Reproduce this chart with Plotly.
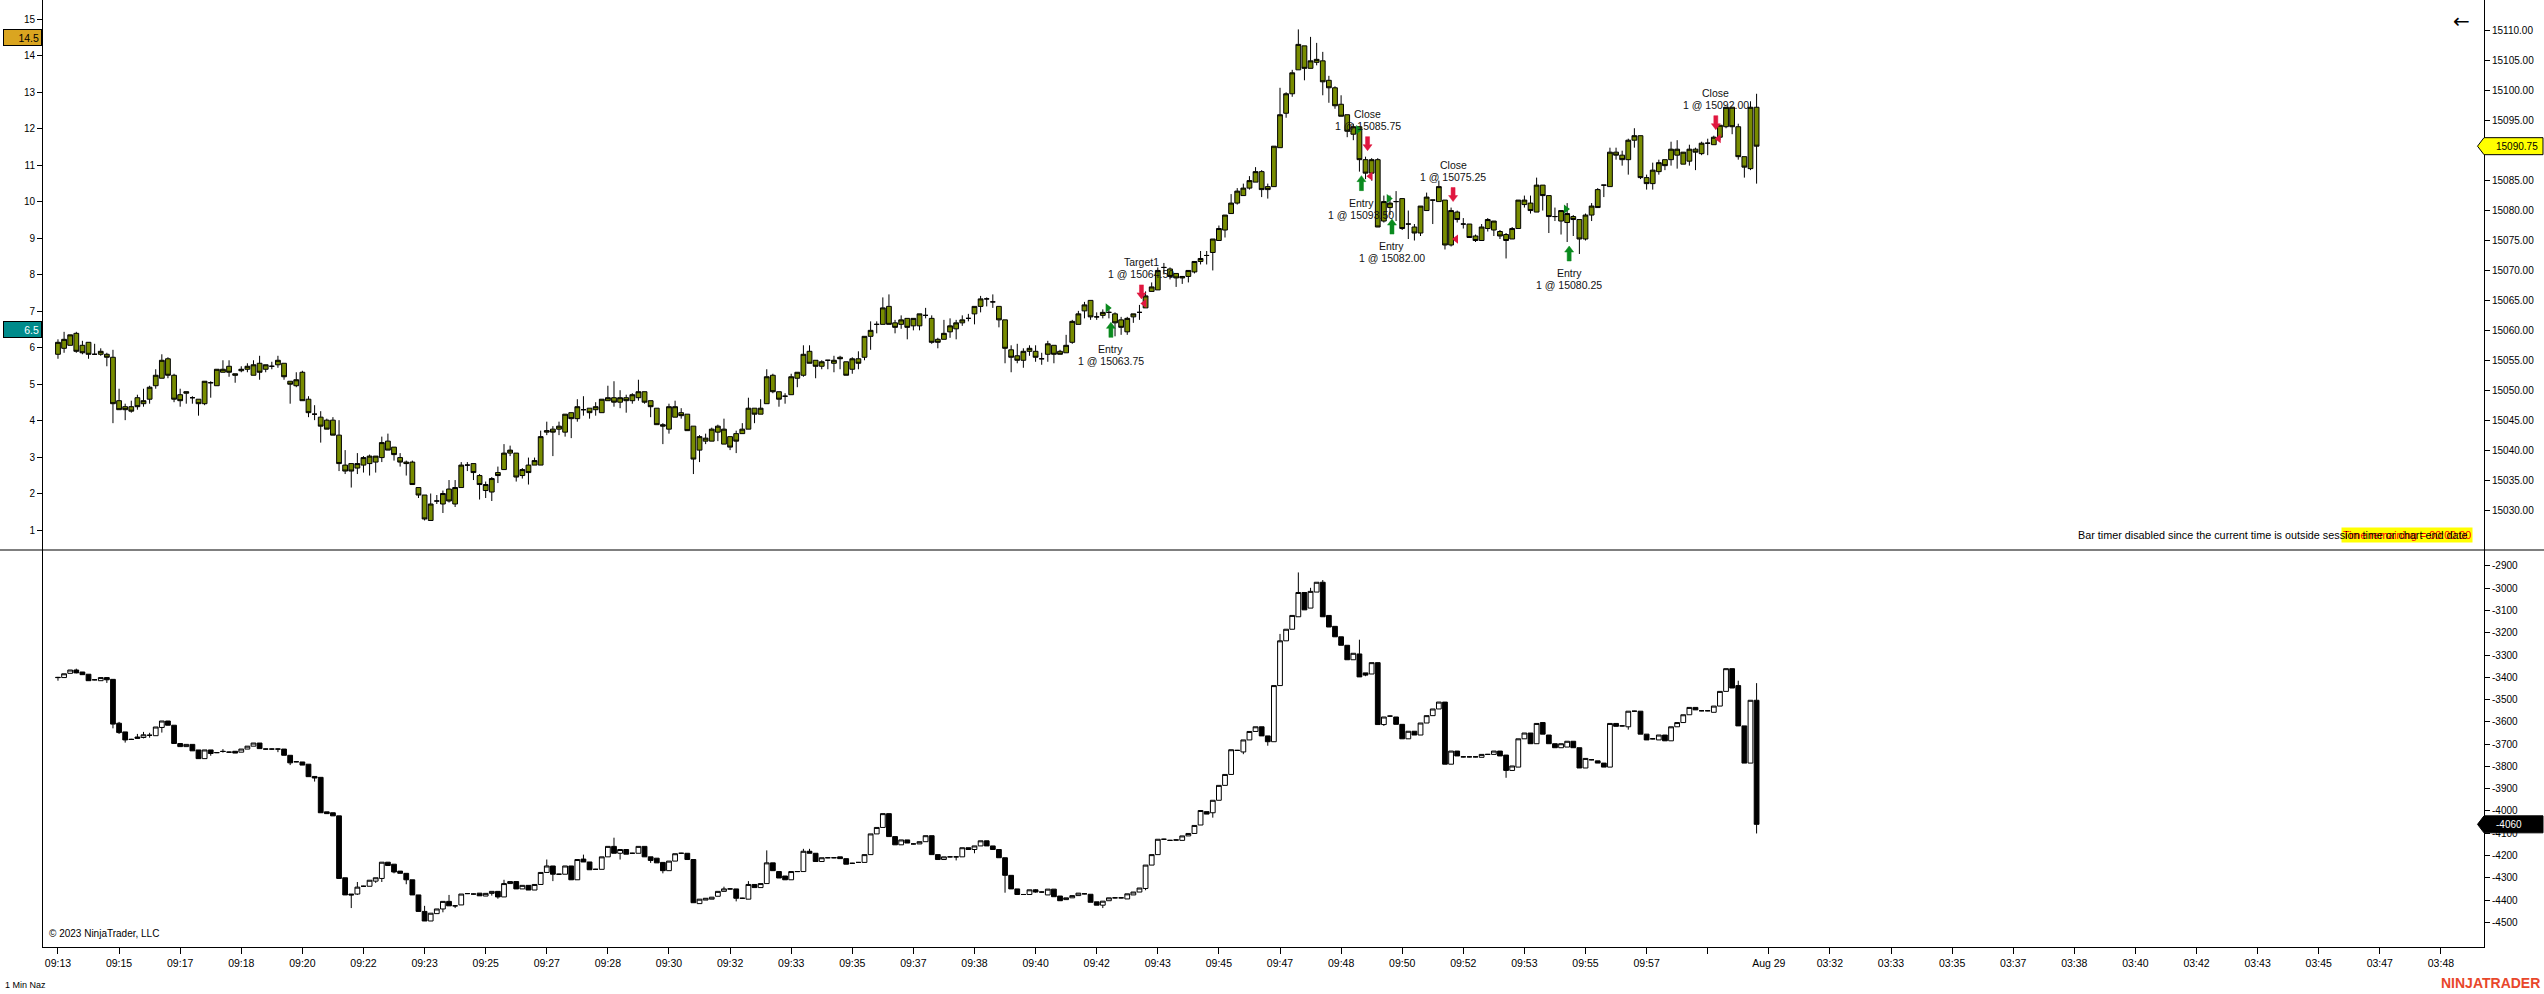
import plotly.graph_objects as go

W, H = 2544, 994
FONT = "Liberation Sans, Arial, sans-serif"
OLIVE = "#788c00"
GREEN = "#0a8a1e"
RED = "#e0173f"

# ---------------- price panel (1 Min Naz) ----------------
price_open = [
    15056.0, 15057.0, 15057.5, 15059.5, 15057.5, 15058.0, 15056.0, 15056.0, 15056.0, 15055.5,
    15048.25, 15047.25, 15047.25, 15048.75, 15047.75, 15048.5, 15050.75, 15052.0, 15055.25, 15052.5,
    15049.25, 15049.5, 15048.75, 15048.5, 15047.75, 15051.25, 15050.75, 15053.0, 15054.0, 15052.75,
    15053.25, 15053.5, 15052.5, 15054.5, 15053.5, 15054.0, 15054.25, 15054.5, 15051.5, 15050.75,
    15053.0, 15048.5, 15046.0, 15045.5, 15045.0, 15045.0, 15042.5, 15037.5, 15037.75, 15037.0,
    15037.5, 15037.75, 15038.0, 15038.75, 15041.5, 15040.5, 15038.75, 15038.0, 15038.0, 15033.75,
    15032.5, 15028.25, 15031.5, 15031.0, 15033.5, 15031.0, 15033.75, 15037.5, 15037.75, 15035.75,
    15033.25, 15033.0, 15036.25, 15036.75, 15039.5, 15039.5, 15035.75, 15037.5, 15037.5, 15037.5,
    15043.0, 15043.5, 15043.5, 15043.0, 15046.25, 15045.25, 15046.75, 15047.0, 15046.75, 15046.25,
    15048.25, 15048.75, 15048.0, 15048.75, 15048.25, 15048.75, 15049.75, 15048.25, 15047.0, 15044.25,
    15043.5, 15045.5, 15046.25, 15046.0, 15044.0, 15040.0, 15041.5, 15041.5, 15043.0, 15041.0,
    15042.25, 15042.75, 15042.75, 15043.5, 15047.0, 15046.0, 15047.75, 15052.5, 15049.75, 15049.0,
    15049.25, 15052.0, 15052.5, 15056.5, 15055.0, 15054.0, 15055.0, 15054.5, 15055.5, 15054.75,
    15053.5, 15055.25, 15055.5, 15059.0, 15061.0, 15061.0, 15064.0, 15061.25, 15061.0, 15062.0,
    15060.75, 15060.75, 15062.5, 15062.0, 15058.5, 15058.5, 15059.75, 15060.25, 15061.25, 15062.0,
    15062.75, 15064.0, 15065.25, 15064.75, 15064.0, 15061.75, 15056.75, 15055.75, 15055.0, 15056.5,
    15056.5, 15055.25, 15056.0, 15057.5, 15056.5, 15056.25, 15058.0, 15061.0, 15063.25, 15065.0,
    15062.25, 15062.5, 15063.0, 15062.75, 15061.75, 15059.75, 15062.25, 15063.0, 15063.75, 15066.5,
    15066.75, 15070.5, 15070.25, 15069.5, 15068.75, 15069.0, 15069.75, 15071.5, 15072.5, 15073.0,
    15075.0, 15076.75, 15079.5, 15081.25, 15082.5, 15083.75, 15084.75, 15086.5, 15084.0, 15084.0,
    15090.5, 15096.25, 15099.5, 15103.5, 15107.5, 15103.75, 15104.75, 15105.0, 15101.75, 15100.5,
    15097.75, 15096.0, 15092.75, 15094.0, 15088.5, 15086.25, 15088.5, 15078.25, 15080.5, 15081.5,
    15082.0, 15077.75, 15077.25, 15076.25, 15080.0, 15081.75, 15081.5, 15081.75, 15074.25, 15079.75,
    15077.75, 15077.75, 15075.75, 15075.0, 15077.0, 15076.75, 15076.5, 15076.0, 15075.25, 15077.0,
    15081.0, 15081.25, 15079.75, 15084.25, 15082.5, 15079.0, 15078.25, 15078.0, 15079.0, 15078.5,
    15075.25, 15079.25, 15083.5, 15084.25, 15084.0, 15089.75, 15089.25, 15088.5, 15091.75, 15092.5,
    15085.5, 15084.5, 15086.5, 15088.5, 15088.5, 15089.25, 15087.75, 15088.25, 15090.25, 15089.5,
    15091.25, 15091.0, 15092.25, 15094.0, 15097.25, 15094.0, 15089.0, 15087.0, 15097.25,
]
price_high = [
    15058.5, 15059.75, 15059.25, 15059.75, 15058.25, 15058.0, 15057.75, 15057.0, 15056.25, 15056.75,
    15050.25, 15047.75, 15048.25, 15049.25, 15050.25, 15050.75, 15053.5, 15056.0, 15055.5, 15052.75,
    15050.25, 15049.75, 15049.0, 15048.5, 15051.5, 15051.5, 15053.5, 15055.0, 15055.0, 15052.75,
    15054.0, 15054.5, 15055.0, 15055.75, 15054.25, 15054.75, 15055.75, 15054.5, 15051.5, 15053.0,
    15053.25, 15049.0, 15047.5, 15046.5, 15045.25, 15045.5, 15045.0, 15040.0, 15037.75, 15039.5,
    15039.0, 15039.25, 15039.0, 15042.25, 15042.75, 15040.5, 15039.5, 15038.25, 15038.25, 15033.75,
    15032.5, 15032.75, 15032.5, 15033.25, 15035.0, 15035.0, 15038.0, 15038.0, 15037.75, 15036.0,
    15034.75, 15035.5, 15037.25, 15041.0, 15040.75, 15039.5, 15037.0, 15038.75, 15038.75, 15043.25,
    15044.75, 15044.0, 15044.75, 15046.0, 15046.25, 15048.5, 15049.0, 15047.0, 15048.0, 15048.5,
    15050.75, 15051.5, 15050.0, 15049.25, 15049.5, 15051.75, 15049.75, 15048.25, 15047.0, 15044.5,
    15047.75, 15048.25, 15047.0, 15046.0, 15044.0, 15042.5, 15042.75, 15043.75, 15044.25, 15045.25,
    15042.25, 15043.25, 15044.5, 15048.75, 15047.0, 15048.5, 15053.5, 15052.75, 15049.75, 15049.5,
    15052.75, 15053.0, 15057.5, 15057.5, 15055.0, 15055.0, 15055.0, 15055.75, 15055.75, 15054.75,
    15055.5, 15056.5, 15059.0, 15061.5, 15061.5, 15065.5, 15066.0, 15061.75, 15062.5, 15062.0,
    15062.0, 15062.75, 15063.75, 15062.5, 15058.75, 15061.75, 15062.0, 15061.75, 15062.5, 15062.75,
    15064.0, 15065.75, 15065.5, 15066.0, 15064.0, 15061.75, 15057.5, 15057.75, 15057.0, 15057.5,
    15057.5, 15056.25, 15058.25, 15057.5, 15056.75, 15059.25, 15061.75, 15063.25, 15064.75, 15065.0,
    15063.0, 15063.5, 15063.5, 15063.0, 15062.25, 15062.25, 15062.75, 15064.25, 15066.5, 15068.0,
    15070.5, 15071.25, 15070.5, 15069.5, 15069.0, 15070.0, 15071.5, 15073.25, 15073.25, 15075.25,
    15077.5, 15079.25, 15082.75, 15083.75, 15084.5, 15085.75, 15087.25, 15086.75, 15084.5, 15090.75,
    15100.5, 15099.75, 15103.5, 15110.25, 15107.5, 15109.0, 15108.0, 15106.5, 15102.5, 15100.75,
    15099.25, 15096.0, 15094.5, 15094.0, 15089.0, 15088.75, 15088.75, 15082.5, 15082.5, 15083.25,
    15082.0, 15080.0, 15077.75, 15080.75, 15083.0, 15081.75, 15085.0, 15081.75, 15080.5, 15080.0,
    15078.75, 15077.75, 15076.0, 15077.75, 15078.75, 15078.25, 15076.75, 15076.25, 15077.25, 15081.75,
    15082.5, 15082.5, 15085.5, 15084.25, 15082.5, 15080.5, 15080.0, 15081.25, 15079.25, 15078.5,
    15079.5, 15081.25, 15083.75, 15084.25, 15090.5, 15090.5, 15090.0, 15092.0, 15093.75, 15092.5,
    15086.0, 15088.0, 15088.5, 15088.5, 15091.5, 15091.75, 15089.75, 15091.0, 15090.5, 15091.5,
    15092.0, 15092.5, 15094.25, 15097.25, 15097.25, 15094.5, 15089.0, 15098.25, 15099.5,
]
price_low = [
    15055.25, 15056.25, 15057.5, 15056.25, 15056.0, 15055.25, 15056.0, 15055.75, 15054.0, 15044.5,
    15046.75, 15045.0, 15046.25, 15046.75, 15047.25, 15047.75, 15050.25, 15052.0, 15052.0, 15048.0,
    15047.25, 15047.75, 15047.75, 15045.75, 15047.5, 15048.75, 15050.75, 15053.0, 15052.25, 15051.25,
    15053.0, 15053.0, 15052.5, 15051.75, 15053.0, 15053.5, 15053.75, 15051.75, 15047.75, 15050.5,
    15048.25, 15045.5, 15045.0, 15041.25, 15043.5, 15042.5, 15036.5, 15036.0, 15033.75, 15036.0,
    15036.25, 15035.75, 15036.25, 15038.0, 15040.0, 15038.25, 15037.25, 15035.75, 15034.25, 15032.0,
    15028.25, 15028.25, 15031.0, 15029.5, 15031.25, 15030.5, 15033.75, 15036.5, 15035.0, 15031.75,
    15032.0, 15031.5, 15034.5, 15036.75, 15039.0, 15034.75, 15035.25, 15034.25, 15037.5, 15037.5,
    15042.5, 15039.0, 15042.5, 15042.25, 15042.0, 15044.75, 15045.75, 15045.25, 15045.75, 15046.25,
    15048.25, 15047.25, 15047.0, 15046.25, 15047.75, 15048.25, 15047.75, 15045.5, 15044.25, 15041.0,
    15042.75, 15045.5, 15045.25, 15043.25, 15036.0, 15038.0, 15041.0, 15041.5, 15041.5, 15041.0,
    15040.0, 15039.5, 15042.75, 15043.5, 15044.5, 15046.0, 15047.75, 15049.5, 15047.25, 15047.75,
    15049.25, 15050.5, 15052.25, 15054.5, 15052.0, 15053.5, 15053.5, 15053.0, 15053.5, 15052.5,
    15052.75, 15053.5, 15055.0, 15056.75, 15059.5, 15061.0, 15061.0, 15059.5, 15060.25, 15058.5,
    15060.0, 15060.0, 15062.0, 15057.75, 15057.0, 15058.5, 15058.75, 15058.5, 15060.75, 15061.5,
    15061.0, 15063.0, 15064.0, 15063.75, 15060.5, 15054.5, 15053.0, 15054.5, 15053.75, 15055.75,
    15054.75, 15054.25, 15054.75, 15054.5, 15056.0, 15056.25, 15057.75, 15061.0, 15062.0, 15061.75,
    15061.75, 15062.0, 15062.0, 15059.0, 15059.25, 15059.25, 15061.25, 15061.75, 15063.75, 15066.5,
    15066.75, 15069.5, 15068.5, 15067.25, 15067.75, 15068.0, 15069.5, 15071.0, 15071.0, 15070.0,
    15075.0, 15075.5, 15079.5, 15081.0, 15082.5, 15083.5, 15084.75, 15082.25, 15082.0, 15084.0,
    15090.5, 15095.5, 15099.0, 15103.5, 15101.75, 15103.75, 15104.25, 15099.25, 15098.0, 15097.0,
    15095.75, 15092.25, 15091.75, 15086.5, 15085.25, 15085.0, 15077.25, 15078.0, 15079.25, 15078.25,
    15076.75, 15075.25, 15075.0, 15075.75, 15080.0, 15077.75, 15081.5, 15073.5, 15074.0, 15078.0,
    15077.0, 15075.5, 15074.75, 15075.0, 15076.5, 15075.75, 15075.25, 15072.0, 15075.25, 15077.0,
    15080.5, 15079.5, 15079.75, 15080.0, 15076.25, 15078.25, 15076.0, 15074.75, 15075.75, 15072.75,
    15075.0, 15078.25, 15080.5, 15082.25, 15084.0, 15088.5, 15087.5, 15086.0, 15090.5, 15085.25,
    15083.5, 15083.5, 15086.0, 15086.75, 15087.5, 15087.0, 15087.75, 15087.5, 15086.75, 15089.25,
    15089.25, 15091.0, 15091.75, 15093.75, 15092.75, 15088.5, 15085.5, 15086.75, 15084.5,
]
price_close = [
    15058.0, 15058.5, 15059.25, 15056.5, 15056.25, 15056.0, 15056.0, 15056.5, 15055.5, 15047.75,
    15046.75, 15046.75, 15046.5, 15047.25, 15048.25, 15050.5, 15052.5, 15055.0, 15052.5, 15048.5,
    15048.25, 15049.75, 15048.75, 15047.75, 15051.5, 15051.25, 15053.5, 15053.5, 15053.0, 15052.5,
    15053.5, 15054.0, 15054.25, 15053.0, 15054.25, 15054.0, 15055.0, 15052.25, 15051.0, 15051.75,
    15048.25, 15046.25, 15046.0, 15044.0, 15043.5, 15042.5, 15037.75, 15036.5, 15036.5, 15037.75,
    15038.75, 15039.0, 15039.0, 15041.25, 15040.0, 15039.25, 15038.0, 15037.75, 15034.25, 15032.5,
    15028.5, 15031.0, 15031.5, 15032.75, 15031.5, 15033.75, 15037.5, 15037.5, 15036.25, 15034.25,
    15034.25, 15035.25, 15035.75, 15039.5, 15040.0, 15035.5, 15036.75, 15036.25, 15038.25, 15042.25,
    15043.25, 15043.0, 15044.0, 15046.0, 15045.25, 15047.25, 15046.75, 15046.25, 15047.25, 15048.5,
    15048.75, 15048.0, 15048.75, 15048.25, 15049.25, 15049.75, 15048.0, 15047.25, 15044.25, 15044.0,
    15047.25, 15047.25, 15045.75, 15043.25, 15038.5, 15042.25, 15042.0, 15043.5, 15044.0, 15043.5,
    15040.5, 15041.5, 15043.5, 15047.0, 15046.0, 15047.0, 15052.25, 15049.75, 15048.5, 15049.0,
    15052.25, 15053.0, 15056.0, 15054.5, 15054.0, 15054.75, 15055.0, 15055.0, 15055.25, 15052.5,
    15055.25, 15054.5, 15059.0, 15060.0, 15061.0, 15063.75, 15061.0, 15060.5, 15061.75, 15060.5,
    15062.0, 15062.75, 15062.5, 15058.0, 15058.0, 15059.5, 15060.75, 15061.25, 15061.75, 15062.0,
    15064.0, 15065.25, 15065.25, 15064.75, 15061.75, 15057.0, 15055.5, 15055.0, 15056.5, 15057.0,
    15055.5, 15055.25, 15057.75, 15056.0, 15056.0, 15057.5, 15061.5, 15062.75, 15064.25, 15062.25,
    15062.25, 15063.0, 15063.0, 15061.25, 15060.5, 15062.0, 15062.75, 15063.0, 15065.75, 15067.25,
    15070.0, 15070.5, 15069.0, 15068.75, 15069.0, 15070.0, 15071.5, 15072.0, 15072.5, 15075.25,
    15077.0, 15079.25, 15081.25, 15083.25, 15083.75, 15085.0, 15086.5, 15083.5, 15083.5, 15090.75,
    15096.0, 15099.5, 15103.0, 15107.75, 15103.75, 15105.0, 15105.25, 15101.5, 15100.5, 15097.5,
    15095.75, 15093.25, 15094.0, 15088.5, 15086.25, 15088.5, 15077.25, 15081.5, 15081.25, 15081.5,
    15077.0, 15077.75, 15076.25, 15080.75, 15082.25, 15081.75, 15084.0, 15074.25, 15080.0, 15078.5,
    15077.75, 15075.5, 15075.0, 15077.25, 15078.5, 15078.25, 15075.75, 15075.0, 15077.0, 15081.75,
    15081.75, 15080.0, 15084.25, 15082.5, 15079.0, 15079.0, 15080.0, 15079.5, 15078.5, 15075.25,
    15079.25, 15080.75, 15080.5, 15084.25, 15089.75, 15089.25, 15088.5, 15091.75, 15092.5, 15085.5,
    15084.5, 15086.75, 15088.0, 15087.5, 15090.25, 15090.25, 15089.75, 15090.25, 15089.75, 15091.25,
    15091.25, 15092.25, 15094.25, 15097.25, 15094.0, 15089.0, 15087.25, 15097.25, 15090.75,
]

# ---------------- lower panel (delta) ----------------
delta_open = [
    -3400, -3401, -3382, -3367, -3376, -3386, -3411, -3415, -3401, -3409,
    -3606, -3645, -3678, -3668, -3670, -3660, -3662, -3625, -3596, -3615,
    -3697, -3711, -3701, -3726, -3765, -3726, -3738, -3732, -3736, -3732,
    -3736, -3722, -3709, -3695, -3722, -3722, -3722, -3722, -3750, -3779,
    -3780, -3790, -3845, -3849, -4004, -4008, -4022, -4300, -4373, -4373,
    -4338, -4338, -4315, -4303, -4230, -4239, -4270, -4280, -4309, -4377,
    -4451, -4494, -4461, -4440, -4406, -4426, -4422, -4371, -4373, -4369,
    -4382, -4370, -4361, -4386, -4326, -4317, -4350, -4334, -4355, -4330,
    -4276, -4247, -4284, -4284, -4247, -4309, -4216, -4229, -4262, -4262,
    -4206, -4159, -4190, -4173, -4190, -4190, -4159, -4206, -4212, -4231,
    -4268, -4225, -4190, -4190, -4218, -4416, -4400, -4396, -4383, -4361,
    -4350, -4350, -4392, -4396, -4330, -4344, -4326, -4233, -4272, -4292,
    -4309, -4272, -4272, -4181, -4190, -4227, -4210, -4210, -4206, -4214,
    -4235, -4231, -4231, -4196, -4103, -4074, -4012, -4115, -4152, -4130,
    -4148, -4148, -4138, -4111, -4196, -4218, -4206, -4206, -4206, -4165,
    -4173, -4157, -4134, -4157, -4173, -4210, -4289, -4350, -4375, -4375,
    -4354, -4364, -4377, -4351, -4382, -4398, -4390, -4380, -4372, -4374,
    -4408, -4423, -4403, -4390, -4390, -4395, -4377, -4364, -4348, -4243,
    -4196, -4127, -4132, -4131, -4132, -4112, -4101, -4063, -4003, -4008,
    -3952, -3885, -3836, -3728, -3735, -3681, -3643, -3622, -3663, -3689,
    -3437, -3236, -3184, -3128, -3019, -3089, -3017, -2973, -3122, -3171,
    -3218, -3256, -3321, -3295, -3380, -3385, -3334, -3612, -3574, -3578,
    -3611, -3676, -3642, -3659, -3605, -3572, -3542, -3511, -3790, -3731,
    -3757, -3757, -3757, -3759, -3746, -3746, -3731, -3749, -3818, -3803,
    -3676, -3650, -3698, -3603, -3659, -3698, -3716, -3713, -3687, -3716,
    -3807, -3770, -3775, -3785, -3803, -3607, -3618, -3622, -3552, -3552,
    -3655, -3676, -3681, -3659, -3685, -3622, -3603, -3568, -3535, -3550,
    -3550, -3557, -3529, -3463, -3361, -3437, -3618, -3785, -3503,
]
delta_high = [
    -3398, -3384, -3367, -3361, -3376, -3386, -3409, -3401, -3401, -3409,
    -3600, -3645, -3676, -3654, -3645, -3649, -3623, -3596, -3596, -3615,
    -3697, -3701, -3701, -3726, -3726, -3726, -3736, -3722, -3734, -3732,
    -3722, -3709, -3695, -3695, -3720, -3720, -3720, -3722, -3750, -3777,
    -3780, -3790, -3845, -3849, -4004, -4008, -4022, -4300, -4373, -4319,
    -4336, -4311, -4300, -4230, -4230, -4239, -4270, -4280, -4309, -4377,
    -4426, -4459, -4440, -4406, -4377, -4424, -4373, -4369, -4371, -4369,
    -4370, -4361, -4361, -4309, -4317, -4317, -4334, -4334, -4330, -4276,
    -4218, -4247, -4282, -4247, -4247, -4218, -4196, -4229, -4260, -4206,
    -4159, -4120, -4173, -4173, -4188, -4159, -4159, -4206, -4212, -4231,
    -4225, -4192, -4188, -4190, -4218, -4396, -4392, -4387, -4361, -4340,
    -4348, -4350, -4390, -4315, -4330, -4326, -4177, -4233, -4272, -4292,
    -4272, -4270, -4170, -4170, -4190, -4210, -4208, -4208, -4206, -4214,
    -4233, -4229, -4196, -4103, -4074, -4012, -4012, -4115, -4130, -4130,
    -4146, -4138, -4111, -4111, -4196, -4206, -4204, -4204, -4165, -4165,
    -4157, -4134, -4134, -4157, -4173, -4210, -4289, -4350, -4373, -4354,
    -4351, -4362, -4351, -4351, -4382, -4390, -4380, -4369, -4370, -4374,
    -4408, -4405, -4390, -4388, -4388, -4372, -4364, -4346, -4243, -4196,
    -4127, -4125, -4130, -4128, -4112, -4101, -4065, -3998, -4003, -3952,
    -3885, -3836, -3725, -3726, -3681, -3643, -3622, -3622, -3663, -3437,
    -3205, -3184, -3122, -2929, -3019, -2998, -2973, -2963, -3122, -3171,
    -3218, -3256, -3292, -3231, -3380, -3334, -3334, -3578, -3572, -3578,
    -3611, -3642, -3642, -3605, -3572, -3542, -3511, -3511, -3731, -3731,
    -3755, -3755, -3755, -3746, -3744, -3731, -3731, -3749, -3798, -3676,
    -3650, -3650, -3607, -3603, -3659, -3698, -3698, -3687, -3687, -3716,
    -3764, -3768, -3775, -3785, -3607, -3607, -3616, -3552, -3550, -3552,
    -3655, -3674, -3659, -3659, -3622, -3603, -3568, -3535, -3535, -3548,
    -3548, -3529, -3463, -3361, -3361, -3415, -3618, -3503, -3426,
]
delta_low = [
    -3415, -3401, -3382, -3382, -3388, -3415, -3413, -3415, -3425, -3629,
    -3654, -3693, -3680, -3674, -3674, -3671, -3662, -3648, -3615, -3697,
    -3711, -3711, -3730, -3765, -3765, -3752, -3740, -3738, -3738, -3740,
    -3736, -3722, -3709, -3720, -3724, -3724, -3736, -3750, -3794, -3781,
    -3794, -3846, -3868, -4008, -4012, -4022, -4303, -4377, -4436, -4377,
    -4340, -4338, -4323, -4319, -4245, -4280, -4280, -4329, -4377, -4451,
    -4494, -4494, -4461, -4455, -4426, -4436, -4422, -4373, -4375, -4381,
    -4382, -4380, -4394, -4386, -4326, -4350, -4350, -4355, -4355, -4330,
    -4276, -4315, -4286, -4284, -4309, -4309, -4229, -4264, -4264, -4262,
    -4206, -4190, -4218, -4194, -4192, -4190, -4206, -4233, -4233, -4280,
    -4268, -4225, -4192, -4218, -4412, -4416, -4400, -4396, -4383, -4361,
    -4352, -4406, -4394, -4396, -4344, -4344, -4326, -4268, -4301, -4309,
    -4309, -4274, -4272, -4190, -4227, -4227, -4212, -4212, -4214, -4239,
    -4237, -4233, -4231, -4196, -4103, -4074, -4115, -4152, -4152, -4144,
    -4150, -4148, -4138, -4196, -4218, -4218, -4208, -4222, -4206, -4173,
    -4190, -4157, -4157, -4173, -4210, -4367, -4350, -4375, -4377, -4375,
    -4367, -4366, -4377, -4385, -4403, -4398, -4390, -4380, -4374, -4410,
    -4423, -4436, -4403, -4392, -4392, -4395, -4377, -4364, -4356, -4243,
    -4196, -4129, -4134, -4132, -4132, -4112, -4101, -4063, -4014, -4030,
    -3952, -3885, -3836, -3730, -3745, -3681, -3643, -3663, -3707, -3689,
    -3437, -3236, -3184, -3128, -3097, -3089, -3017, -3128, -3174, -3218,
    -3256, -3321, -3321, -3398, -3395, -3385, -3612, -3618, -3576, -3611,
    -3676, -3676, -3659, -3659, -3605, -3572, -3542, -3790, -3790, -3753,
    -3759, -3759, -3759, -3759, -3748, -3746, -3753, -3851, -3818, -3803,
    -3676, -3698, -3698, -3655, -3698, -3716, -3716, -3713, -3716, -3807,
    -3807, -3772, -3785, -3803, -3803, -3620, -3620, -3635, -3554, -3655,
    -3681, -3678, -3681, -3685, -3685, -3622, -3603, -3568, -3546, -3552,
    -3552, -3557, -3529, -3463, -3448, -3618, -3785, -3785, -4101,
]
delta_close = [
    -3401, -3384, -3367, -3380, -3388, -3415, -3411, -3401, -3411, -3610,
    -3648, -3681, -3679, -3674, -3658, -3660, -3623, -3596, -3615, -3697,
    -3711, -3701, -3730, -3765, -3726, -3742, -3738, -3733, -3736, -3740,
    -3722, -3709, -3695, -3720, -3722, -3722, -3722, -3750, -3784, -3779,
    -3794, -3846, -3852, -4008, -4012, -4022, -4303, -4377, -4377, -4342,
    -4338, -4311, -4300, -4230, -4245, -4274, -4280, -4309, -4377, -4451,
    -4494, -4459, -4440, -4406, -4426, -4426, -4373, -4371, -4373, -4381,
    -4370, -4361, -4386, -4326, -4317, -4350, -4334, -4355, -4330, -4276,
    -4247, -4284, -4284, -4247, -4309, -4218, -4229, -4264, -4262, -4206,
    -4159, -4190, -4173, -4194, -4190, -4159, -4206, -4222, -4233, -4268,
    -4225, -4192, -4190, -4218, -4412, -4396, -4392, -4387, -4361, -4350,
    -4350, -4392, -4392, -4330, -4344, -4326, -4233, -4268, -4301, -4309,
    -4272, -4272, -4181, -4190, -4227, -4210, -4210, -4210, -4214, -4239,
    -4235, -4231, -4196, -4103, -4074, -4012, -4115, -4152, -4130, -4144,
    -4148, -4138, -4111, -4196, -4218, -4206, -4206, -4206, -4165, -4173,
    -4157, -4134, -4157, -4173, -4210, -4289, -4350, -4375, -4375, -4354,
    -4364, -4364, -4351, -4385, -4403, -4390, -4380, -4369, -4372, -4410,
    -4423, -4405, -4390, -4390, -4390, -4372, -4364, -4346, -4243, -4196,
    -4127, -4127, -4132, -4130, -4112, -4101, -4065, -3998, -4014, -3952,
    -3885, -3836, -3725, -3728, -3681, -3643, -3622, -3663, -3689, -3437,
    -3236, -3184, -3122, -3019, -3097, -3014, -2973, -3128, -3174, -3218,
    -3256, -3321, -3292, -3398, -3390, -3334, -3612, -3578, -3574, -3611,
    -3676, -3642, -3659, -3605, -3572, -3542, -3511, -3790, -3731, -3753,
    -3757, -3757, -3757, -3746, -3746, -3731, -3753, -3818, -3798, -3676,
    -3650, -3698, -3607, -3655, -3698, -3716, -3698, -3687, -3716, -3807,
    -3764, -3770, -3785, -3803, -3607, -3620, -3618, -3552, -3552, -3655,
    -3681, -3676, -3659, -3685, -3622, -3603, -3568, -3535, -3546, -3550,
    -3550, -3529, -3463, -3361, -3448, -3618, -3785, -3503, -4060,
]

# ---------------- axis labels ----------------
time_labels = [
    "09:13", "09:15", "09:17", "09:18", "09:20", "09:22", "09:23", "09:25", "09:27", "09:28",
    "09:30", "09:32", "09:33", "09:35", "09:37", "09:38", "09:40", "09:42", "09:43", "09:45",
    "09:47", "09:48", "09:50", "09:52", "09:53", "09:55", "09:57", "", "Aug 29", "03:32",
    "03:33", "03:35", "03:37", "03:38", "03:40", "03:42", "03:43", "03:45", "03:47", "03:48",
]
bars_per_label = 10
price_ticks = [15030, 15035, 15040, 15045, 15050, 15055, 15060, 15065, 15070,
               15075, 15080, 15085, 15090, 15095, 15100, 15105, 15110]
left_ticks = [1, 2, 3, 4, 5, 6, 7, 8, 9, 10, 11, 12, 13, 14, 15]
delta_ticks = [-2900, -3000, -3100, -3200, -3300, -3400, -3500, -3600, -3700,
               -3800, -3900, -4000, -4100, -4200, -4300, -4400, -4500]

# ---------------- trades ----------------
entry_bars = [172, 213, 218, 247]
entry_prices = [15063.75, 15093.50, 15082.00, 15080.25]
exit_bars = [177, 214, 228, 271]
exit_prices = [15064.50, 15085.75, 15075.25, 15092.00]
exit_names = ["Target1", "Close", "Close", "Close"]

left_tag_values = [14.5, 6.5]
left_tag_fill = ["#DAA520", "#008B8B"]
left_tag_text = ["#000000", "#FFFFFF"]

# ---------------- geometry helpers (pixel -> paper) ----------------
def fx(px):
    return px / W

def fy(py):
    return 1 - py / H

X_DOM = [fx(43), fx(2484)]
SPLIT = fy(550)
TOP_DOM = [SPLIT, 1.0]
BOT_DOM = [fy(947), SPLIT]
X_RANGE = [-2.45, 397.05]
PRICE_RANGE = [15023.32, 15115.16]
LEFT_RANGE = [0.46, 15.529]
DELTA_RANGE = [-4610.8, -2828.2]

bars = list(range(len(price_open)))
tickvals = [k * bars_per_label for k in range(len(time_labels))]

fig = go.Figure()

fig.add_trace(go.Candlestick(
    x=bars, open=price_open, high=price_high, low=price_low, close=price_close,
    xaxis="x2", yaxis="y",
    increasing=dict(fillcolor=OLIVE, line=dict(color="black", width=1)),
    decreasing=dict(fillcolor=OLIVE, line=dict(color="black", width=1)),
    whiskerwidth=0, hoverinfo="skip", showlegend=False,
))
fig.add_trace(go.Candlestick(
    x=bars, open=delta_open, high=delta_high, low=delta_low, close=delta_close,
    xaxis="x", yaxis="y3",
    increasing=dict(fillcolor="white", line=dict(color="black", width=1)),
    decreasing=dict(fillcolor="black", line=dict(color="black", width=1)),
    whiskerwidth=0, hoverinfo="skip", showlegend=False,
))
# empty traces so the overlay axes exist
fig.add_trace(go.Scatter(x=[], y=[], xaxis="x2", yaxis="y2", showlegend=False))
fig.add_trace(go.Scatter(x=[], y=[], xaxis="x", yaxis="y4", showlegend=False))

# execution triangles
fig.add_trace(go.Scatter(
    x=[b - 0.2 for b in entry_bars], y=entry_prices, mode="markers",
    marker=dict(symbol="triangle-right", size=8, color=GREEN, line=dict(width=0)),
    xaxis="x2", yaxis="y", hoverinfo="skip", showlegend=False,
))
fig.add_trace(go.Scatter(
    x=[b + 0.8 for b in exit_bars], y=exit_prices, mode="markers",
    marker=dict(symbol="triangle-left", size=8, color=RED, line=dict(width=0)),
    xaxis="x2", yaxis="y", hoverinfo="skip", showlegend=False,
))

shapes = []
annotations = []
tick_font = dict(family=FONT, size=10, color="black")
label_font = dict(family=FONT, size=10.5, color="#111111")

UP_ARROW = "M2,-4 L6.5,-10 L4,-10 L4,-19 L0,-19 L0,-10 L-2.5,-10 Z"
DOWN_ARROW = "M2,6 L6.5,12 L4,12 L4,20 L0,20 L0,12 L-2.5,12 Z"

for b, p in zip(entry_bars, entry_prices):
    low = price_low[b]
    shapes.append(dict(type="path", xref="x2", yref="y", xsizemode="pixel", ysizemode="pixel",
                       xanchor=b, yanchor=low, path=UP_ARROW, fillcolor=GREEN,
                       line=dict(color=GREEN, width=0.5)))
    annotations.append(dict(x=b, y=low, xref="x2", yref="y", text="Entry", showarrow=False,
                            xanchor="center", yanchor="middle", xshift=2, yshift=-31, font=label_font))
    annotations.append(dict(x=b, y=low, xref="x2", yref="y", text=f"1 @ {p:.2f}", showarrow=False,
                            xanchor="center", yanchor="middle", xshift=2, yshift=-43, font=label_font))

for b, p, name in zip(exit_bars, exit_prices, exit_names):
    high = price_high[b]
    shapes.append(dict(type="path", xref="x2", yref="y", xsizemode="pixel", ysizemode="pixel",
                       xanchor=b, yanchor=high, path=DOWN_ARROW, fillcolor=RED,
                       line=dict(color=RED, width=0.5)))
    annotations.append(dict(x=b, y=high, xref="x2", yref="y", text=name, showarrow=False,
                            xanchor="center", yanchor="middle", xshift=2, yshift=43, font=label_font))
    annotations.append(dict(x=b, y=high, xref="x2", yref="y", text=f"1 @ {p:.2f}", showarrow=False,
                            xanchor="center", yanchor="middle", xshift=2, yshift=31, font=label_font))

# panel separator
shapes.append(dict(type="line", xref="paper", yref="paper", x0=0, x1=1, y0=SPLIT, y1=SPLIT,
                   line=dict(color="black", width=1.2)))

# right-side last value tags
TAG_PATH = "M-6.5,0 L0,8.5 L59,8.5 L59,-8.5 L0,-8.5 Z"
shapes.append(dict(type="path", xref="paper", yref="y", xsizemode="pixel", ysizemode="pixel",
                   xanchor=fx(2484), yanchor=price_close[-1], path=TAG_PATH,
                   fillcolor="#FFFF00", line=dict(color="black", width=1)))
annotations.append(dict(x=fx(2494), y=price_close[-1], xref="paper", yref="y",
                        text=f"{price_close[-1]:.2f}", showarrow=False, xanchor="left",
                        yanchor="middle", font=dict(family=FONT, size=10, color="black")))
shapes.append(dict(type="path", xref="paper", yref="y3", xsizemode="pixel", ysizemode="pixel",
                   xanchor=fx(2484), yanchor=delta_close[-1], path=TAG_PATH,
                   fillcolor="black", line=dict(color="black", width=1)))
annotations.append(dict(x=fx(2494), y=delta_close[-1], xref="paper", yref="y3",
                        text=f"{delta_close[-1]:.0f}", showarrow=False, xanchor="left",
                        yanchor="middle", font=dict(family=FONT, size=10, color="white")))

# left-side tags
for v, fill, tc in zip(left_tag_values, left_tag_fill, left_tag_text):
    annotations.append(dict(x=fx(41.7), y=v, xref="paper", yref="y2", text=f"{v}",
                            showarrow=False, xanchor="right", yanchor="middle", align="right",
                            width=33, height=11, borderpad=2, borderwidth=1, bordercolor="black",
                            bgcolor=fill, font=dict(family=FONT, size=10.5, color=tc)))

# bar timer messages
annotations.append(dict(x=fx(2473), y=fy(534.5), xref="paper", yref="paper",
                        text="Time remaining = 00:00:00", showarrow=False, xanchor="right",
                        yanchor="middle", bgcolor="#FFFF00", borderpad=1,
                        font=dict(family=FONT, size=10.8, color="#FF0000")))
annotations.append(dict(x=fx(2469), y=fy(534.5), xref="paper", yref="paper",
                        text="Bar timer disabled since the current time is outside session time or chart end date",
                        showarrow=False, xanchor="right", yanchor="middle",
                        font=dict(family=FONT, size=10.8, color="black")))

# misc texts
annotations.append(dict(x=fx(2461), y=fy(21), xref="paper", yref="paper", text="\u2190",
                        showarrow=False, xanchor="center", yanchor="middle",
                        font=dict(family="DejaVu Sans, sans-serif", size=20, color="black")))
annotations.append(dict(x=fx(47), y=fy(933), xref="paper", yref="paper",
                        text="\u00a9 2023 NinjaTrader, LLC", showarrow=False, xanchor="left",
                        yanchor="middle", font=dict(family=FONT, size=10, color="black")))
annotations.append(dict(x=fx(3), y=fy(985), xref="paper", yref="paper", text="1 Min Naz",
                        showarrow=False, xanchor="left", yanchor="middle",
                        font=dict(family=FONT, size=9, color="black")))
annotations.append(dict(x=fx(2542), y=fy(983), xref="paper", yref="paper", text="<b>NINJATRADER</b>",
                        showarrow=False, xanchor="right", yanchor="middle",
                        font=dict(family=FONT, size=14, color="#E8472B")))

axis_common = dict(showgrid=False, zeroline=False, fixedrange=True)

fig.update_layout(
    width=W, height=H,
    margin=dict(l=0, r=0, t=0, b=0),
    paper_bgcolor="white", plot_bgcolor="white",
    showlegend=False,
    boxgap=0.22, boxgroupgap=0,
    font=dict(family=FONT, size=10, color="black"),
    xaxis=dict(domain=X_DOM, anchor="y3", range=X_RANGE, tickmode="array",
               tickvals=tickvals, ticktext=time_labels, ticks="outside", ticklen=6,
               tickcolor="black", showline=True, linecolor="black", linewidth=1,
               tickfont=dict(family=FONT, size=10.5, color="black"),
               rangeslider=dict(visible=False), **axis_common),
    xaxis2=dict(domain=X_DOM, anchor="y", range=X_RANGE, matches="x", showticklabels=False,
                ticks="", showline=False, rangeslider=dict(visible=False), **axis_common),
    yaxis=dict(domain=TOP_DOM, anchor="x2", side="right", range=PRICE_RANGE, tickmode="array",
               tickvals=price_ticks, ticktext=[f"{v:.2f}" for v in price_ticks],
               ticks="outside", ticklen=5, tickcolor="black", showline=True,
               linecolor="black", linewidth=1, tickfont=tick_font, **axis_common),
    yaxis2=dict(overlaying="y", anchor="x2", side="left", range=LEFT_RANGE, tickmode="array",
                tickvals=left_ticks, ticktext=[str(v) for v in left_ticks],
                ticks="outside", ticklen=5, tickcolor="black", showline=True,
                linecolor="black", linewidth=1, tickfont=tick_font, **axis_common),
    yaxis3=dict(domain=BOT_DOM, anchor="x", side="right", range=DELTA_RANGE, tickmode="array",
                tickvals=delta_ticks, ticktext=[str(v) for v in delta_ticks],
                ticks="outside", ticklen=5, tickcolor="black", showline=True,
                linecolor="black", linewidth=1, tickfont=tick_font, **axis_common),
    yaxis4=dict(overlaying="y3", anchor="x", side="left", range=DELTA_RANGE,
                showticklabels=False, ticks="", showline=True, linecolor="black",
                linewidth=1, **axis_common),
    shapes=shapes,
    annotations=annotations,
)

fig.write_html(
    "out.html",
    config={"displayModeBar": False},
    post_script="document.body.style.margin='0';document.body.style.overflow='hidden';",
)
